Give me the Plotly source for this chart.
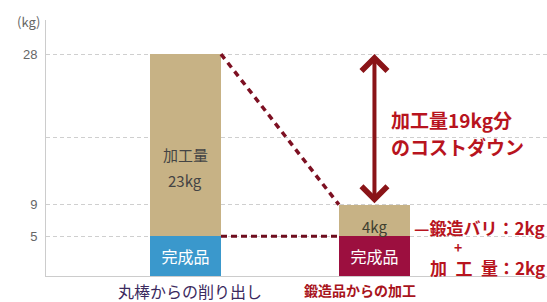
import plotly.graph_objects as go

# ---- data ----
categories = ["丸棒からの削り出し", "鍛造品からの加工"]
finished = [5, 5]        # 完成品 (kg)
machining = [23, 4]      # 加工量 (kg)
burr = 2                 # 鍛造バリ (kg)
machining_forged = 2     # 加工量 (kg) of forged part
saving = machining[0] - machining[1]   # 19
tick_vals = [5, 9, 17.5, 28]
tick_text = ["5", "9", "", "28"]

JP = "Noto Sans CJK JP"
finished_colors = ["#3a98cc", "#9c0f3f"]
tan = "#c7b285"
red = "#b8141e"
dark_red = "#8a1418"

x = [0, 1]
bw = 0.376
totals = [f + m for f, m in zip(finished, machining)]

fig = go.Figure()
fig.add_bar(
    x=x, y=finished, width=bw, marker_color=finished_colors, marker_line_width=0,
    text=["完成品", "完成品"], textposition="inside", insidetextanchor="middle",
    textangle=0, textfont=dict(color="white", size=16, family=JP),
    hoverinfo="skip", showlegend=False,
)
fig.add_bar(
    x=x, y=machining, base=finished, width=bw, marker_color=tan, marker_line_width=0,
    hoverinfo="skip", showlegend=False,
)

shapes = [
    dict(type="line", xref="x", yref="y",
         x0=x[0] + bw / 2, y0=totals[0], x1=x[1] - bw / 2, y1=totals[1],
         line=dict(color="#7d1022", width=3.5, dash="6px,5px"), layer="above"),
    dict(type="line", xref="x", yref="y",
         x0=x[0] + bw / 2, y0=finished[0], x1=x[1] - bw / 2, y1=finished[1],
         line=dict(color="#6e0d1e", width=3, dash="6px,4px"), layer="above"),
]

ann = []
# double arrow for cost reduction
ann.append(dict(x=x[1], y=totals[0], ax=x[1], ay=totals[1], xref="x", yref="y",
                axref="x", ayref="y", text="", showarrow=True, arrowhead=4,
                arrowside="end+start", arrowwidth=4, arrowsize=1.25,
                arrowcolor=dark_red, standoff=0, startstandoff=0))
# texts inside tan bars
ann.append(dict(x=x[0], y=15.3, xref="x", yref="y", text="加工量", showarrow=False,
                font=dict(family=JP, size=15, color="#444444")))
ann.append(dict(x=x[0], y=12.1, xref="x", yref="y", text=f"{machining[0]}kg", showarrow=False,
                font=dict(family=JP, size=15, color="#444444")))
ann.append(dict(x=x[1], y=6.2, xref="x", yref="y", text=f"{machining[1]}kg", showarrow=False,
                font=dict(family=JP, size=15, color="#3f3f30")))
# cost-down text
ann.append(dict(x=1.077, y=19.7, xref="x", yref="y", xanchor="left", showarrow=False,
                text=f"<b>加工量{saving}kg分</b>", font=dict(family=JP, size=19, color=red)))
ann.append(dict(x=1.077, y=16.3, xref="x", yref="y", xanchor="left", showarrow=False,
                text="<b>のコストダウン</b>", font=dict(family=JP, size=19, color=red)))
# right side breakdown
ann.append(dict(x=1, y=6.1, xref="paper", yref="y", xanchor="right", showarrow=False,
                text=f"<b>—鍛造バリ：{burr}kg</b>", font=dict(family=JP, size=17, color=red)))
ann.append(dict(x=1.44, y=3.6, xref="x", yref="y", showarrow=False,
                text="<b>+</b>", font=dict(family=JP, size=14, color=red)))
ann.append(dict(x=1, y=1.1, xref="paper", yref="y", xanchor="right", showarrow=False,
                text=f"<b>加\u2002工\u2002量：{machining_forged}kg</b>",
                font=dict(family=JP, size=17, color=red)))
# category labels
ann.append(dict(x=0.024, y=0, xref="x", yref="paper", yanchor="top", yshift=-1, showarrow=False,
                text=categories[0], font=dict(family=JP, size=16, color="#3b2a5e")))
ann.append(dict(x=0.923, y=0, xref="x", yref="paper", yanchor="top", yshift=-2, showarrow=False,
                text=f"<b>{categories[1]}</b>", font=dict(family=JP, size=14, color="#a8141c")))
# unit label
ann.append(dict(x=0, y=1, xref="paper", yref="paper", xanchor="right", yanchor="middle",
                xshift=-4, yshift=-1, showarrow=False, text="(kg)",
                font=dict(family=JP, size=13, color="#666666")))

fig.update_layout(
    width=547, height=302,
    margin=dict(l=46, r=0, t=20, b=26),
    paper_bgcolor="white", plot_bgcolor="white",
    barmode="overlay", bargap=0,
    shapes=shapes, annotations=ann,
    xaxis=dict(range=[-0.738, 1.913], showticklabels=False, showgrid=False, zeroline=False,
               showline=True, linecolor="#cccccc", linewidth=1, fixedrange=True),
    yaxis=dict(range=[0, 32.3], tickvals=tick_vals, ticktext=tick_text, ticks="",
               showgrid=True, gridcolor="#cfcfcf", gridwidth=1, griddash="4px,3px",
               zeroline=False, showline=True, linecolor="#cccccc", linewidth=1,
               tickfont=dict(family="Liberation Sans", size=13, color="#666666"),
               ticklabelstandoff=5, fixedrange=True),
    showlegend=False,
)

fig.write_html(
    "out.html",
    config={"displayModeBar": False},
    post_script="document.body.style.margin='0px';document.body.style.overflow='hidden';",
)
